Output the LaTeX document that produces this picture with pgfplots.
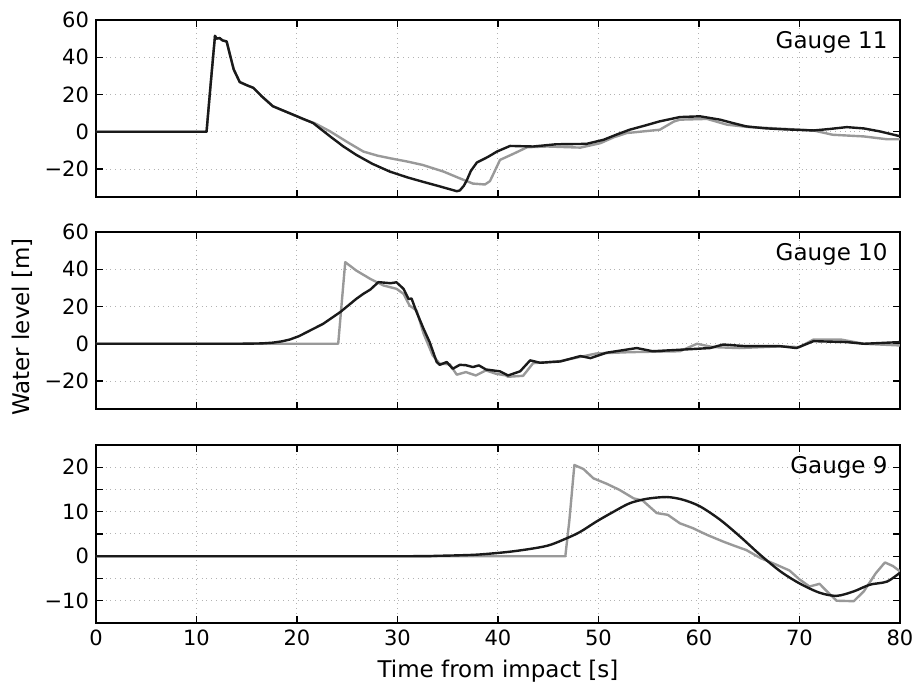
\documentclass[border=0pt]{standalone}
\usepackage{fontspec}
\setmainfont{DejaVu Sans}
\usepackage{pgfplots}
\pgfplotsset{compat=1.18}
\definecolor{obs}{HTML}{999999}
\definecolor{sim}{HTML}{1A1A1A}
\tikzset{glabel/.style={anchor=east, inner sep=0pt, font=\fontsize{11.5}{13}\selectfont}}
\pgfplotsset{
  panel/.style={
    scale only axis, width=402pt, height=88.5pt,
    xmin=0, xmax=80, xtick={0,10,...,80},
    tick align=inside, major tick length=3.5pt, minor tick length=3.5pt,
    grid=major, major grid style={dotted, gray!60, line width=0.5pt},
    minor grid style={dotted, gray!60, line width=0.5pt},
    axis line style={line width=1pt}, every tick/.style={black, line width=0.6pt},
    tick label style={font=\fontsize{10.5}{12}\selectfont},
    /pgf/number format/assume math mode=true,
    clip=true,
  },
  obsl/.style={obs, line width=1.2pt, line join=round},
  siml/.style={sim, line width=1.2pt, line join=round},
}
\begin{document}
\begin{tikzpicture}
\path[use as bounding box] (0,0) rectangle (461.5pt,341.5pt);
% Gauge 11
\begin{axis}[panel, at={(48pt,243pt)}, anchor=south west,
  ymin=-35, ymax=60, ytick={-20,0,20,40,60}, yticklabels={−20,0,20,40,60},
  xticklabels=\empty]
\addplot[obsl] coordinates {(0,0) (11.0,0) (11.4,25) (11.84,51.5) (12.0,50) (12.3,50.3) (12.6,49) (13.0,48.5) (13.3,42) (13.7,33.5) (14.3,26.7) (15.0,25) (15.65,23.6) (16.5,19) (17.6,13.7) (18.8,11) (20.0,8.3) (20.5,7.0) (21.8,4.5) (23.3,0.2) (25.0,-5.5) (26.6,-10.6) (28.0,-12.8) (29.25,-14.2) (31,-16) (32.5,-17.8) (34.6,-21.4) (36.2,-25) (37.5,-27.8) (38.7,-28.3) (39.2,-26.5) (39.6,-22) (40.2,-15.1) (41.5,-11.9) (42.9,-8.3) (44.9,-7.9) (48.2,-8.5) (50.2,-6.1) (51.5,-3) (52.8,-0.7) (55.0,0.5) (56.1,1.1) (57.5,5.5) (58.1,6.5) (60.8,6.9) (62.8,3.8) (65,2.5) (67,2) (71.4,0.7) (73.3,-1.6) (76.4,-2.5) (78.7,-4) (80,-4)};
\addplot[siml] coordinates {(0,0) (11.0,0) (11.4,25) (11.84,51.5) (12.0,50) (12.3,50.3) (12.6,49) (13.0,48.5) (13.3,42) (13.7,33.5) (14.3,26.7) (15.0,25) (15.65,23.6) (16.5,19) (17.6,13.7) (18.8,11) (20.0,8.3) (21.6,4.7) (23.3,-2.5) (24.6,-7.8) (25.9,-12.4) (27.5,-17.2) (29.25,-21.4) (31,-24.5) (32.5,-26.8) (34.2,-29.3) (35.9,-31.9) (36.2,-31.5) (36.6,-29) (36.9,-26) (37.3,-21) (37.9,-16.5) (39.0,-13.5) (39.9,-10.6) (41.2,-7.6) (43.5,-7.9) (45.8,-6.7) (48.8,-6.5) (50.5,-4.3) (51.8,-1.5) (53.1,1.1) (54.6,3.3) (56.1,5.6) (58.1,7.9) (60.1,8.3) (62.1,6.5) (63.5,4.5) (64.7,2.9) (66.5,1.9) (68.1,1.4) (71.4,0.7) (73,1.5) (74.7,2.5) (76.4,1.8) (78.0,0.2) (80,-2.4)};
\node[glabel] at (rel axis cs:0.985,0.875) {Gauge 11};
\end{axis}
% Gauge 10
\begin{axis}[panel, at={(48pt,137pt)}, anchor=south west,
  ymin=-35, ymax=60, ytick={-20,0,20,40,60}, yticklabels={−20,0,20,40,60},
  xticklabels=\empty]
\addplot[obsl] coordinates {(0,0) (24.1,0) (24.8,43.8) (25.9,39.3) (27.3,34.8) (28.6,31.3) (29.9,29.5) (30.6,26.8) (31.2,20.5) (31.9,17.9) (32.6,5.4) (33.5,-6.2) (34.2,-10.7) (35.2,-11) (35.9,-16.6) (36.8,-15.2) (37.8,-17) (38.8,-14.3) (39.8,-16.1) (40.8,-17) (41.0,-17.7) (42.5,-17.2) (43.5,-10.4) (46.2,-9.3) (49.8,-5.2) (53.1,-4.5) (58.1,-4) (59.8,0) (61.4,-1.8) (64.0,-2.3) (68.1,-1.4) (70.0,-1.8) (71.4,2.3) (74.1,2.3) (76.4,0) (80,-0.9)};
\addplot[siml] coordinates {(0,0) (14,0) (15.5,0.1) (16.5,0.2) (17.6,0.6) (18.5,1.3) (19.3,2.3) (20.2,4.1) (21.0,6.3) (22.6,10.7) (24.3,17) (25.9,24.1) (26.6,26.8) (27.3,29.1) (28.1,33.1) (29.3,32.5) (29.9,33) (30.6,29.5) (31.1,24) (31.4,24.3) (31.9,17) (32.6,8) (33.2,0.9) (33.9,-9.8) (34.2,-11.3) (34.9,-9.8) (35.5,-13.4) (36.2,-11.3) (36.8,-11.5) (37.5,-12.5) (38.1,-11.6) (38.8,-13.8) (39.5,-14.3) (40.2,-14.8) (41.0,-17) (42.2,-14.8) (43.2,-8.9) (44.2,-10.2) (46.2,-9.5) (48.2,-6.6) (49.2,-7.7) (50.8,-4.8) (53.8,-2.3) (55.4,-4) (58.8,-3) (61.1,-2.3) (62.4,-0.4) (64.7,-1.3) (68.1,-1.3) (69.7,-2.3) (71.4,1.4) (74.7,0.9) (76.4,0) (80,0.9)};
\node[glabel] at (rel axis cs:0.985,0.875) {Gauge 10};
\end{axis}
% Gauge 9
\begin{axis}[panel, at={(48pt,30pt)}, anchor=south west, height=89pt,
  ymin=-15, ymax=25, ytick={-10,0,10,20}, yticklabels={−10,0,10,20},
  minor ytick={-5,5,15}, yminorgrids=true,
  xlabel={Time from impact [s]}, xlabel style={font=\fontsize{11.5}{13}\selectfont}]
\addplot[obsl] coordinates {(0,0) (46.7,0) (47.1,8) (47.6,20.5) (48.5,19.6) (49.5,17.5) (50.8,16.3) (52.1,14.9) (53.5,13.0) (54.4,12.5) (55.8,9.7) (56.9,9.3) (58.1,7.4) (59.4,6.3) (60.8,4.8) (62.4,3.3) (63.7,2.2) (64.7,1.4) (66.1,-0.4) (67.7,-1.9) (69.0,-3.2) (70.0,-5.2) (71.0,-6.8) (72.0,-6.2) (72.6,-7.6) (73.7,-10) (75.4,-10.1) (76.4,-7.9) (77.6,-3.8) (78.5,-1.4) (79.3,-2.2) (80,-3.4)};
\addplot[siml, smooth, tension=0.5] coordinates {(0,0) (30,0) (34,0.1) (36,0.2) (38.2,0.4) (41.5,1.1) (44.8,2.3) (46.8,4.0) (48.2,5.5) (49.8,7.8) (51.5,10) (53.1,11.9) (54.8,12.9) (56.8,13.3) (58.4,12.7) (60.1,11.2) (62.1,8.2) (64.1,4.4) (66.1,0.3) (68.1,-3.4) (70.0,-6.1) (72.0,-8.2) (73.7,-8.9) (75.4,-7.9) (77.0,-6.4) (78.7,-5.7) (80,-3.7)};
\node[glabel] at (rel axis cs:0.985,0.875) {Gauge 9};
\end{axis}
\node[rotate=90, font=\fontsize{11.5}{13}\selectfont] at (11pt,178pt) {Water level [m]};
\end{tikzpicture}
\end{document}
